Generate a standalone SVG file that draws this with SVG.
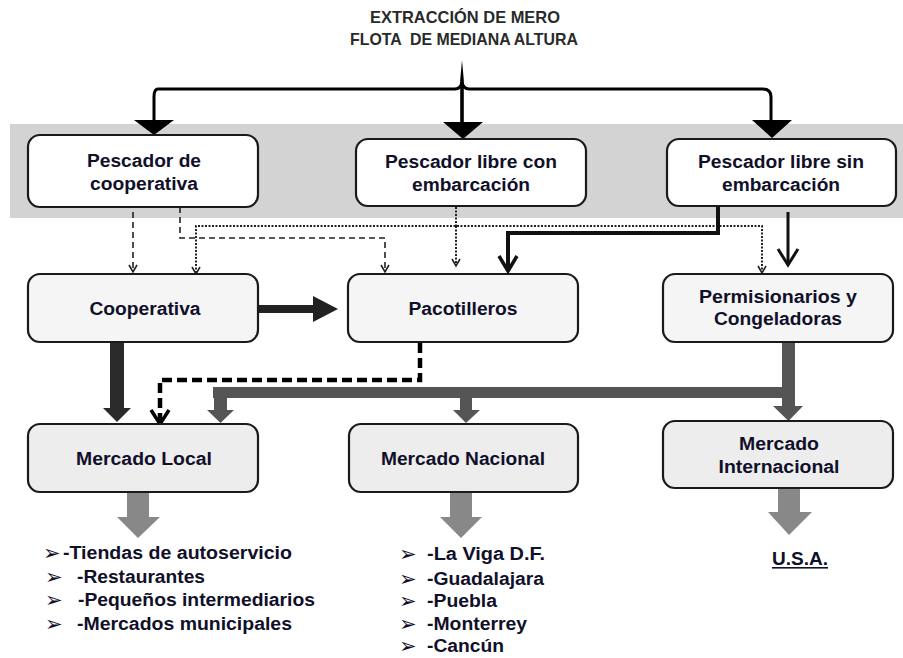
<svg xmlns="http://www.w3.org/2000/svg" width="903" height="658" viewBox="0 0 903 658">
<style>
.t{font-family:"Liberation Sans",Arial,sans-serif;font-weight:bold;font-size:17.5px;fill:#10102a;text-anchor:middle}
.tl{font-family:"Liberation Sans",Arial,sans-serif;font-weight:bold;font-size:18px;fill:#10102a}
.ttl{font-family:"Liberation Sans",Arial,sans-serif;font-weight:bold;font-size:16.5px;fill:#2a2a2a;text-anchor:middle}
.b{font-family:"DejaVu Sans",sans-serif;font-size:21px;fill:#10102a}
.n1{fill:#fff;stroke:#1a1a1a;stroke-width:2.2}
.n2{fill:#f5f5f5;stroke:#1a1a1a;stroke-width:2.2}
.n3{fill:#ededed;stroke:#1a1a1a;stroke-width:2.2}
.dash{fill:none;stroke:#222;stroke-width:1.6;stroke-dasharray:6 4}
.dot{fill:none;stroke:#222;stroke-width:2;stroke-dasharray:2 1.5}
.v{fill:none;stroke:#222;stroke-width:1.6}
.blk{fill:none;stroke:#000;stroke-width:3}
.g{fill:#555}
.lg{fill:#888}
</style>
<rect x="10" y="124" width="893" height="94" fill="#d3d3d3"/>
<g id="title">
<text class="ttl" x="465" y="23" textLength="190" lengthAdjust="spacingAndGlyphs">EXTRACCIÓN DE MERO</text>
<text class="ttl" x="464" y="45" textLength="228" lengthAdjust="spacingAndGlyphs" xml:space="preserve">FLOTA  DE MEDIANA ALTURA</text>
</g>
<g id="connectors">
<path class="blk" d="M158 89 H455 Q461 89 462 82 Q463 89 469 89 H763 Q771 89 771 97 V121"/>
<path class="blk" d="M158 89 Q154 89 154 97 V121"/>
<path d="M462 60 L463.8 80 L463.8 123 L460.2 123 L460.2 80 Z" fill="#000"/>
<polygon points="134,120 174,120 154,135" fill="#000"/>
<polygon points="443,122 483,122 463,139" fill="#000"/>
<polygon points="752,120 792,120 772,138" fill="#000"/>
<path class="dash" d="M133 212 V271"/>
<path class="v" d="M129 265 L133 272 L137 265"/>
<path class="dash" d="M180 207 V238 H385 V271"/>
<path class="v" d="M381 265 L385 272 L389 265"/>
<path class="dot" d="M456 207 V226"/>
<path class="dot" d="M196 273 V226 H762 V272"/>
<path class="dot" d="M456 226 V265"/>
<path class="v" d="M192 267 L196 274 L200 267"/>
<path class="v" d="M452 259 L456 266 L460 259"/>
<path class="v" d="M758 266 L762 273 L766 266"/>
<path fill="none" stroke="#111" stroke-width="4" d="M718 206 V233 H508 V270"/>
<path fill="none" stroke="#111" stroke-width="3.5" d="M499 256 L508 271 L517 256"/>
<path fill="none" stroke="#111" stroke-width="3" d="M788 212 V264"/>
<path fill="none" stroke="#111" stroke-width="3" d="M778 249 L788 265 L798 249"/>
<rect x="258" y="305" width="57" height="8" fill="#222"/>
<polygon points="313,296 338,309 313,322" fill="#222"/>
<rect x="110" y="342" width="14" height="67" fill="#2a2a2a"/>
<polygon points="103,408 131,408 117,422" fill="#2a2a2a"/>
<rect x="417" y="332" width="5" height="3" fill="#000"/>
<path fill="none" stroke="#000" stroke-width="4.5" stroke-dasharray="10 5" d="M420 343 V380 H160 V422"/>
<path fill="none" stroke="#000" stroke-width="3.5" d="M151 410 L160 424 L169 410"/>
<rect class="g" x="782" y="342" width="13" height="65"/>
<polygon class="g" points="773,406 803,406 788.5,421"/>
<rect class="g" x="213" y="387" width="582" height="11"/>
<rect class="g" x="214" y="387" width="13" height="24"/>
<polygon class="g" points="207,410 234,410 220.5,423"/>
<rect class="g" x="460" y="397" width="12" height="14"/>
<polygon class="g" points="453,410 480,410 466,423"/>
<rect class="lg" x="127" y="492" width="22" height="26"/>
<polygon class="lg" points="117,517 160,517 138,538"/>
<rect class="lg" x="450" y="492" width="22" height="26"/>
<polygon class="lg" points="440,517 482,517 461,538"/>
<rect class="lg" x="778" y="488" width="22" height="25"/>
<polygon class="lg" points="768,512 812,512 789,535"/>
</g>
<g id="pescador-cooperativa">
<rect class="n1" x="28" y="135" width="230" height="72" rx="12"/>
<text class="t" x="144" y="167" textLength="114" lengthAdjust="spacingAndGlyphs">Pescador de</text>
<text class="t" x="144" y="190" textLength="108" lengthAdjust="spacingAndGlyphs">cooperativa</text>
</g>
<g id="pescador-libre-con">
<rect class="n1" x="356" y="139" width="230" height="67" rx="12"/>
<text class="t" x="471" y="168" textLength="172" lengthAdjust="spacingAndGlyphs">Pescador libre con</text>
<text class="t" x="471" y="191" textLength="118" lengthAdjust="spacingAndGlyphs">embarcación</text>
</g>
<g id="pescador-libre-sin">
<rect class="n1" x="667" y="139" width="229" height="67" rx="12"/>
<text class="t" x="781" y="168" textLength="166" lengthAdjust="spacingAndGlyphs">Pescador libre sin</text>
<text class="t" x="781" y="191" textLength="118" lengthAdjust="spacingAndGlyphs">embarcación</text>
</g>
<g id="cooperativa">
<rect class="n2" x="28" y="274" width="230" height="68" rx="12"/>
<text class="t" x="145" y="315" textLength="111" lengthAdjust="spacingAndGlyphs">Cooperativa</text>
</g>
<g id="pacotilleros">
<rect class="n2" x="348" y="274" width="230" height="68" rx="12"/>
<text class="t" x="463" y="315" textLength="109" lengthAdjust="spacingAndGlyphs">Pacotilleros</text>
</g>
<g id="permisionarios">
<rect class="n2" x="663" y="274" width="230" height="68" rx="12"/>
<text class="t" x="778" y="303" textLength="158" lengthAdjust="spacingAndGlyphs">Permisionarios y</text>
<text class="t" x="778" y="325" textLength="128" lengthAdjust="spacingAndGlyphs">Congeladoras</text>
</g>
<g id="mercado-local">
<rect class="n3" x="28" y="424" width="230" height="68" rx="12"/>
<text class="t" x="144" y="465" textLength="136" lengthAdjust="spacingAndGlyphs">Mercado Local</text>
</g>
<g id="mercado-nacional">
<rect class="n3" x="349" y="424" width="229" height="68" rx="12"/>
<text class="t" x="463" y="465" textLength="164" lengthAdjust="spacingAndGlyphs">Mercado Nacional</text>
</g>
<g id="mercado-internacional">
<rect class="n3" x="663" y="421" width="230" height="67" rx="12"/>
<text class="t" x="779" y="450" textLength="80" lengthAdjust="spacingAndGlyphs">Mercado</text>
<text class="t" x="779" y="473" textLength="121" lengthAdjust="spacingAndGlyphs">Internacional</text>
</g>
<g id="lista-local">
<text class="b" x="43" y="560">➢</text>
<text class="tl" x="63" y="559" textLength="229" lengthAdjust="spacingAndGlyphs">-Tiendas de autoservicio</text>
<text class="b" x="45" y="584">➢</text>
<text class="tl" x="77" y="583" textLength="128" lengthAdjust="spacingAndGlyphs">-Restaurantes</text>
<text class="b" x="45" y="607">➢</text>
<text class="tl" x="78" y="606" textLength="237" lengthAdjust="spacingAndGlyphs">-Pequeños intermediarios</text>
<text class="b" x="45" y="631">➢</text>
<text class="tl" x="77" y="630" textLength="215" lengthAdjust="spacingAndGlyphs">-Mercados municipales</text>
</g>
<g id="lista-nacional">
<text class="b" x="399" y="561">➢</text>
<text class="tl" x="427" y="560" textLength="118" lengthAdjust="spacingAndGlyphs">-La Viga D.F.</text>
<text class="b" x="399" y="586">➢</text>
<text class="tl" x="427" y="585" textLength="117" lengthAdjust="spacingAndGlyphs">-Guadalajara</text>
<text class="b" x="399" y="608">➢</text>
<text class="tl" x="427" y="607" textLength="70" lengthAdjust="spacingAndGlyphs">-Puebla</text>
<text class="b" x="399" y="631">➢</text>
<text class="tl" x="427" y="630" textLength="100" lengthAdjust="spacingAndGlyphs">-Monterrey</text>
<text class="b" x="399" y="653">➢</text>
<text class="tl" x="427" y="652" textLength="77" lengthAdjust="spacingAndGlyphs">-Cancún</text>
</g>
<g id="lista-internacional">
<text class="tl" x="772" y="565" textLength="56" lengthAdjust="spacingAndGlyphs">U.S.A.</text>
<rect x="772" y="567" width="56" height="1.6" fill="#10102a"/>
</g>
</svg>
